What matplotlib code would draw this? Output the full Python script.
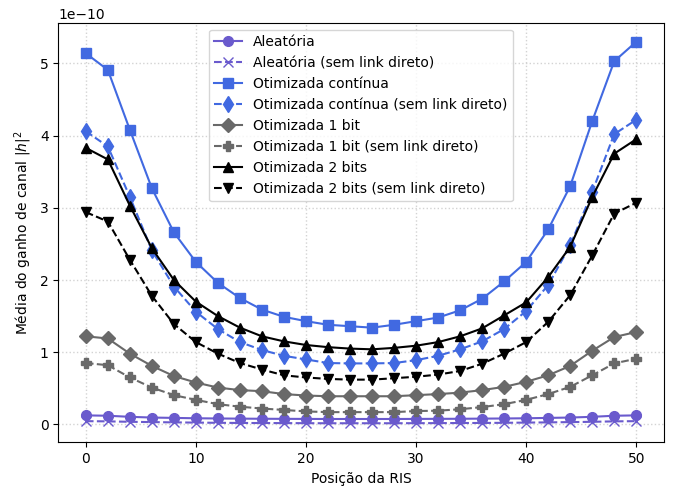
import numpy as np
import matplotlib.pyplot as plt

# posicoes da RIS
pos = np.arange(0, 51, 2)

# valores em unidades de 1e-10
aleatoria = [0.125, 0.12, 0.105, 0.095, 0.09, 0.085, 0.082, 0.08, 0.078, 0.077, 0.076, 0.075, 0.075,
             0.075, 0.075, 0.076, 0.077, 0.078, 0.08, 0.082, 0.085, 0.09, 0.095, 0.105, 0.12, 0.125]
aleatoria_sl = [0.045, 0.042, 0.036, 0.032, 0.028, 0.025, 0.022, 0.02, 0.019, 0.018, 0.017, 0.016, 0.016,
                0.016, 0.016, 0.017, 0.018, 0.019, 0.02, 0.022, 0.025, 0.028, 0.032, 0.036, 0.042, 0.045]
continua = [5.14, 4.91, 4.08, 3.27, 2.66, 2.25, 1.96, 1.75, 1.59, 1.49, 1.43, 1.38, 1.36,
            1.34, 1.38, 1.43, 1.48, 1.58, 1.74, 1.98, 2.25, 2.70, 3.30, 4.20, 5.03, 5.30]
continua_sl = [4.06, 3.85, 3.15, 2.41, 1.91, 1.56, 1.32, 1.14, 1.03, 0.95, 0.90, 0.85, 0.845,
               0.845, 0.85, 0.89, 0.95, 1.04, 1.15, 1.32, 1.57, 1.93, 2.48, 3.22, 4.02, 4.22]
bit1 = [1.22, 1.19, 0.98, 0.81, 0.67, 0.58, 0.51, 0.475, 0.46, 0.42, 0.40, 0.39, 0.39,
        0.39, 0.39, 0.405, 0.42, 0.44, 0.475, 0.52, 0.59, 0.68, 0.81, 1.02, 1.21, 1.28]
bit1_sl = [0.85, 0.82, 0.65, 0.51, 0.405, 0.34, 0.28, 0.245, 0.22, 0.20, 0.18, 0.17, 0.17,
           0.17, 0.17, 0.185, 0.19, 0.21, 0.24, 0.28, 0.34, 0.42, 0.52, 0.68, 0.845, 0.91]
bits2 = [3.83, 3.67, 3.03, 2.44, 2.00, 1.70, 1.50, 1.34, 1.22, 1.15, 1.10, 1.07, 1.05,
         1.04, 1.06, 1.09, 1.14, 1.22, 1.33, 1.51, 1.69, 2.04, 2.46, 3.15, 3.75, 3.95]
bits2_sl = [2.94, 2.81, 2.28, 1.78, 1.39, 1.14, 0.98, 0.85, 0.76, 0.68, 0.65, 0.63, 0.62,
            0.62, 0.64, 0.66, 0.69, 0.74, 0.84, 0.98, 1.14, 1.42, 1.79, 2.34, 2.92, 3.07]

escala = 1e-10

fig, ax = plt.subplots(figsize=(6.78, 4.88), dpi=100)

ax.plot(pos, np.array(aleatoria)*escala, '-o', color='slateblue', ms=7, label='Aleatória')
ax.plot(pos, np.array(aleatoria_sl)*escala, '--x', color='slateblue', ms=7, label='Aleatória (sem link direto)')
ax.plot(pos, np.array(continua)*escala, '-s', color='royalblue', ms=7, label='Otimizada contínua')
ax.plot(pos, np.array(continua_sl)*escala, '--d', color='royalblue', ms=8, label='Otimizada contínua (sem link direto)')
ax.plot(pos, np.array(bit1)*escala, '-D', color='dimgray', ms=7, label='Otimizada 1 bit')
ax.plot(pos, np.array(bit1_sl)*escala, '--P', color='dimgray', ms=7, label='Otimizada 1 bit (sem link direto)')
ax.plot(pos, np.array(bits2)*escala, '-^', color='black', ms=7, label='Otimizada 2 bits')
ax.plot(pos, np.array(bits2_sl)*escala, '--v', color='black', ms=7, label='Otimizada 2 bits (sem link direto)')

ax.set_xlabel('Posição da RIS')
ax.set_ylabel('Média do ganho de canal $|h|^2$')
ax.grid(True, linestyle=':', color='lightgray', linewidth=1)
ax.legend(loc='upper center')

plt.subplots_adjust(left=0.086, right=0.979, top=0.9535, bottom=0.0936)
plt.savefig('out.png')
